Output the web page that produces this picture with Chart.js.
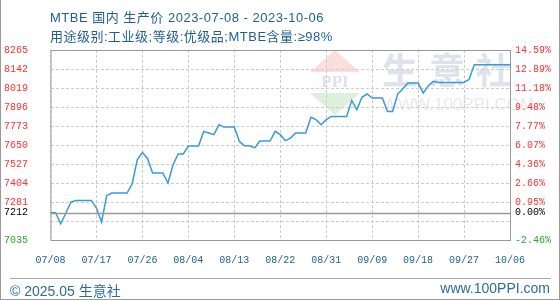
<!DOCTYPE html>
<html lang="zh">
<head>
<meta charset="UTF-8">
<title>MTBE 国内 生产价</title>
<script src="https://cdn.jsdelivr.net/npm/chart.js@4"></script>
<style>
    body { margin: 0; background: #fff; }
    .wrap { position: relative; width: 560px; height: 300px; overflow: hidden; font-family: 'Liberation Sans', 'Noto Sans CJK SC', sans-serif; }
    .frame { position: absolute; left: 0; top: 0; width: 560px; height: 300px; box-sizing: border-box; border-left: 1px solid #9a9a9a; border-right: 1px solid #9a9a9a; border-bottom: 1px solid #9a9a9a; pointer-events: none; }
    canvas { position: absolute; left: 0; top: 0; }
    .title { position: absolute; left: 50px; color: #1f5f94; font-size: 13px; letter-spacing: 0.5px; white-space: nowrap; }
    .t1 { top: 7px; }
    .t2 { top: 26px; }
    .foot { position: absolute; top: 280px; color: #2d6b9c; font-size: 14px; white-space: nowrap; }
    .rule { position: absolute; left: 10px; top: 278px; width: 541px; height: 1px; background: #a8a8a8; }
</style>
</head>
<body>
<div class="wrap">
    <canvas id="chart" width="560" height="300"></canvas>
    <div class="title t1">MTBE 国内 生产价 2023-07-08 - 2023-10-06</div>
    <div class="title t2">用途级别:工业级;等级:优级品;MTBE含量:≥98%</div>
    <div class="rule"></div>
    <div class="foot" style="left:10px">© 2025.05 生意社</div>
    <div class="foot" style="right:10px">www.100PPI.com</div>
    <div class="frame"></div>
</div>
<script>
// 축 눈금
const xTickLabels = ['07/08', '07/17', '07/26', '08/04', '08/13', '08/22', '08/31', '09/09', '09/18', '09/27', '10/06'];
const leftTickValues = [8265, 8142, 8019, 7896, 7773, 7650, 7527, 7404, 7281, 7212, 7158, 7035];
const leftTickLabels = ['8265', '8142', '8019', '7896', '7773', '7650', '7527', '7404', '7281', '7212', '', '7035'];
const rightTickLabels = ['14.59%', '12.89%', '11.18%', '9.48%', '7.77%', '6.07%', '4.36%', '2.66%', '0.95%', '0.00%', '', '-2.46%'];
const baseValue = 7212;

// 일별 생산가 2023-07-08 ~ 2023-10-06
const prices = [
    7212, 7212, 7140, 7208, 7280, 7291, 7291, 7291, 7291, 7242,
    7151, 7322, 7339, 7339, 7339, 7339, 7399, 7555, 7602, 7563,
    7469, 7469, 7469, 7404, 7522, 7592, 7592, 7643, 7643, 7643,
    7738, 7728, 7717, 7781, 7766, 7766, 7766, 7673, 7645, 7645,
    7631, 7676, 7676, 7676, 7738, 7717, 7678, 7695, 7728, 7728,
    7728, 7829, 7814, 7781, 7814, 7835, 7835, 7835, 7835, 7939,
    7878, 7959, 7980, 7954, 7954, 7954, 7867, 7867, 7980, 8013,
    8051, 8051, 8051, 7987, 8034, 8062, 8055, 8055, 8055, 8055,
    8055, 8055, 8075, 8170, 8170, 8170, 8170, 8170, 8170, 8170,
    8170
];

// 카테고리(날짜) 라벨
const days = [];
const start = new Date(2023, 6, 8);
for (let i = 0; i < prices.length; i++) {
    const d = new Date(start.getTime() + i * 86400000);
    days.push(String(d.getMonth() + 1).padStart(2, '0') + '/' + String(d.getDate()).padStart(2, '0'));
}

const tickColor = (v) => v === baseValue ? '#000000' : (v === 7035 ? '#2ea62e' : '#ff3030');
const monoFont = { family: "'Liberation Mono', 'DejaVu Sans Mono', monospace", size: 10 };

// 워터마크 + 기준선 + 테두리
const decor = {
    id: 'decor',
    beforeDraw(chart) {
        const ctx = chart.ctx;
        ctx.save();
        ctx.fillStyle = 'rgba(236,140,130,0.28)';
        ctx.beginPath(); ctx.moveTo(335, 50); ctx.lineTo(360, 72); ctx.lineTo(310, 72); ctx.closePath(); ctx.fill();
        ctx.fillStyle = 'rgba(140,205,140,0.3)';
        ctx.beginPath(); ctx.moveTo(310, 93); ctx.lineTo(360, 93); ctx.lineTo(335, 115); ctx.closePath(); ctx.fill();
        ctx.fillStyle = '#dde2ec';
        ctx.font = "bold 17px 'Liberation Serif', serif";
        ctx.textAlign = 'center';
        ctx.textBaseline = 'middle';
        ctx.fillText('PPI', 335, 83);
        ctx.font = "bold 36px 'Noto Sans CJK SC', sans-serif";
        ctx.fillText('生', 400, 70);
        ctx.fillText('意', 447, 70);
        ctx.fillText('社', 494, 70);
        ctx.fillStyle = '#e9e9e9';
        ctx.font = "17px 'Liberation Sans', sans-serif";
        ctx.textAlign = 'left';
        ctx.fillText('WWW.100PPI.COM', 382, 105);
        ctx.restore();
    },
    afterDatasetsDraw(chart) {
        const { ctx, chartArea: a, scales } = chart;
        ctx.save();
        ctx.strokeStyle = '#9a9a9a';
        ctx.lineWidth = 1.5;
        const y = Math.round(scales.y.getPixelForValue(baseValue)) + 0.5;
        ctx.beginPath(); ctx.moveTo(a.left, y); ctx.lineTo(a.right, y); ctx.stroke();
        ctx.lineWidth = 1;
        ctx.strokeRect(a.left + 0.5, a.top + 0.5, a.right - a.left, a.bottom - a.top);
        ctx.restore();
    }
};

new Chart(document.getElementById('chart'), {
    type: 'line',
    data: {
        labels: days,
        datasets: [{
            data: prices,
            borderColor: '#3a9ad9',
            borderWidth: 1.5,
            pointRadius: 0,
            tension: 0,
            fill: false
        }]
    },
    options: {
        responsive: false,
        animation: false,
        devicePixelRatio: 1,
        layout: { padding: { left: 4, right: 4, top: 50, bottom: 30 } },
        plugins: { legend: { display: false }, tooltip: { enabled: false } },
        scales: {
            x: {
                type: 'category',
                offset: false,
                border: { display: false, dash: [3, 2] },
                grid: {
                    drawTicks: false,
                    color: (c) => c.index % 9 === 0 ? '#cccccc' : 'rgba(0,0,0,0)'
                },
                ticks: {
                    autoSkip: false,
                    maxRotation: 0,
                    padding: 14,
                    color: '#1f5f94',
                    font: monoFont,
                    callback: (v, i) => i % 9 === 0 ? xTickLabels[i / 9] : ''
                },
                afterFit: (s) => { s.height = 30; }
            },
            y: {
                position: 'left',
                min: 7035,
                max: 8265,
                border: { display: false, dash: [3, 2] },
                grid: {
                    drawTicks: false,
                    color: (c) => c.tick && c.tick.value === baseValue ? 'rgba(0,0,0,0)' : '#cccccc'
                },
                afterBuildTicks: (s) => { s.ticks = leftTickValues.map(v => ({ value: v })); },
                ticks: {
                    crossAlign: 'far',
                    padding: 4,
                    font: monoFont,
                    color: (c) => tickColor(c.tick.value),
                    callback: (v) => leftTickLabels[leftTickValues.indexOf(v)]
                },
                afterFit: (s) => { s.width = 46.5; }
            },
            y2: {
                position: 'right',
                min: 7035,
                max: 8265,
                border: { display: false },
                grid: { drawOnChartArea: false, drawTicks: false },
                afterBuildTicks: (s) => { s.ticks = leftTickValues.map(v => ({ value: v })); },
                ticks: {
                    padding: 5,
                    font: monoFont,
                    color: (c) => tickColor(c.tick.value),
                    callback: (v) => rightTickLabels[leftTickValues.indexOf(v)]
                },
                afterFit: (s) => { s.width = 46; }
            }
        }
    },
    plugins: [decor]
});
</script>
</body>
</html>
